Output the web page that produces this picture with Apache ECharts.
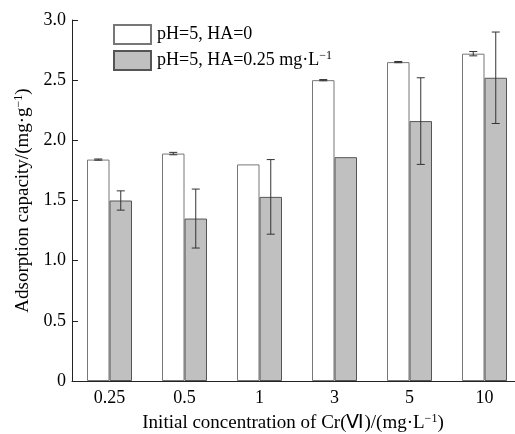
<!DOCTYPE html>
<html>
<head>
<meta charset="utf-8">
<script src="https://cdn.jsdelivr.net/npm/echarts@6/dist/echarts.min.js"></script>
<style>
html,body{margin:0;padding:0;background:#fff;}
#main{width:515px;height:434px;}
</style>
</head>
<body>
<div id="main"></div>
<script>
//data
var categories = ['0.25', '0.5', '1', '3', '5', '10'];
var seriesNames = ['pH=5, HA=0', 'pH=5, HA=0.25 mg·L'];
var valuesHA0 = [1.84, 1.89, 1.80, 2.50, 2.65, 2.72];
var errorsHA0 = [0.005, 0.01, 0, 0.005, 0.005, 0.018];
var valuesHA025 = [1.50, 1.35, 1.53, 1.86, 2.16, 2.52];
var errorsHA025 = [0.08, 0.245, 0.31, 0, 0.36, 0.38];
var yTicks = [0, 0.5, 1.0, 1.5, 2.0, 2.5, 3.0];

var FONT = '"Liberation Serif", "Times New Roman", serif';
var supStyle = {fontFamily: FONT, fontSize: 12, verticalAlign: 'top', padding: [0, 0, 9, 0], color: '#000'};

var chart = echarts.init(document.getElementById('main'));

//error bars drawn as custom series, shifted to the bar centre
function errorSeries(values, errors, side) {
	var data = values.map(function(v, i) {
		return [i, v - errors[i], v + errors[i]];
	});
	return {
		type: 'custom',
		silent: true,
		z: 10,
		data: data,
		renderItem: function(params, api) {
			if(api.value(2) - api.value(1) <= 0) return;
			var band = api.size([1, 0])[0];
			var lo = api.coord([api.value(0), api.value(1)]);
			var hi = api.coord([api.value(0), api.value(2)]);
			var x = lo[0] + side * band * 0.15;
			var cap = 4;
			var style = {stroke: '#333', lineWidth: 1};
			return {
				type: 'group',
				children: [
					{type: 'line', shape: {x1: x, y1: lo[1], x2: x, y2: hi[1]}, style: style},
					{type: 'line', shape: {x1: x - cap, y1: lo[1], x2: x + cap, y2: lo[1]}, style: style},
					{type: 'line', shape: {x1: x - cap, y1: hi[1], x2: x + cap, y2: hi[1]}, style: style}
				]
			};
		}
	};
}

chart.setOption({
	animation: false,
	backgroundColor: '#fff',
	grid: {left: 72, top: 20, width: 450, height: 361, outerBoundsMode: 'none', containLabel: false},
	legend: {
		orient: 'vertical',
		left: 113,
		top: 24,
		padding: 0,
		itemWidth: 37,
		itemHeight: 19,
		itemGap: 5,
		icon: 'rect',
		data: seriesNames,
		formatter: function(name) {
			if(name === seriesNames[1]) return name + '{sup|−1}';
			return name;
		},
		textStyle: {
			fontFamily: FONT,
			fontSize: 18,
			color: '#000',
			padding: [0, 0, 0, 1],
			rich: {sup: supStyle}
		}
	},
	xAxis: {
		type: 'category',
		data: categories,
		name: 'Initial concentration of Cr(Ⅵ)/(mg·L{sup|−1})',
		nameLocation: 'middle',
		nameGap: 32,
		nameTextStyle: {fontFamily: FONT, fontSize: 19, color: '#000', padding: [0, 8, 0, 0], rich: {sup: supStyle}},
		axisLine: {lineStyle: {color: '#222', width: 1}},
		axisTick: {show: false},
		axisLabel: {fontFamily: FONT, fontSize: 18, color: '#000', margin: 8}
	},
	yAxis: {
		type: 'value',
		min: 0,
		max: 3.0,
		interval: 0.5,
		name: 'Adsorption capacity/(mg·g{sup|−1})',
		nameLocation: 'middle',
		nameGap: 36,
		nameTextStyle: {fontFamily: FONT, fontSize: 19, color: '#000', rich: {sup: supStyle}},
		axisLine: {show: true, lineStyle: {color: '#222', width: 1}},
		axisTick: {show: true, inside: true, length: 6, lineStyle: {color: '#222'}},
		splitLine: {show: false},
		axisLabel: {
			fontFamily: FONT, fontSize: 18, color: '#000', margin: 6,
			formatter: function(v) {
				return v === 0 ? '0' : v.toFixed(1);
			}
		}
	},
	series: [
		{
			name: seriesNames[0],
			type: 'bar',
			barWidth: '30%',
			barGap: '0%',
			data: valuesHA0,
			itemStyle: {color: '#fff', borderColor: '#777', borderWidth: 1}
		},
		{
			name: seriesNames[1],
			type: 'bar',
			barWidth: '30%',
			barGap: '0%',
			data: valuesHA025,
			itemStyle: {color: '#c0c0c0', borderColor: '#555', borderWidth: 1}
		},
		errorSeries(valuesHA0, errorsHA0, -1),
		errorSeries(valuesHA025, errorsHA025, 1)
	]
});
</script>
</body>
</html>
